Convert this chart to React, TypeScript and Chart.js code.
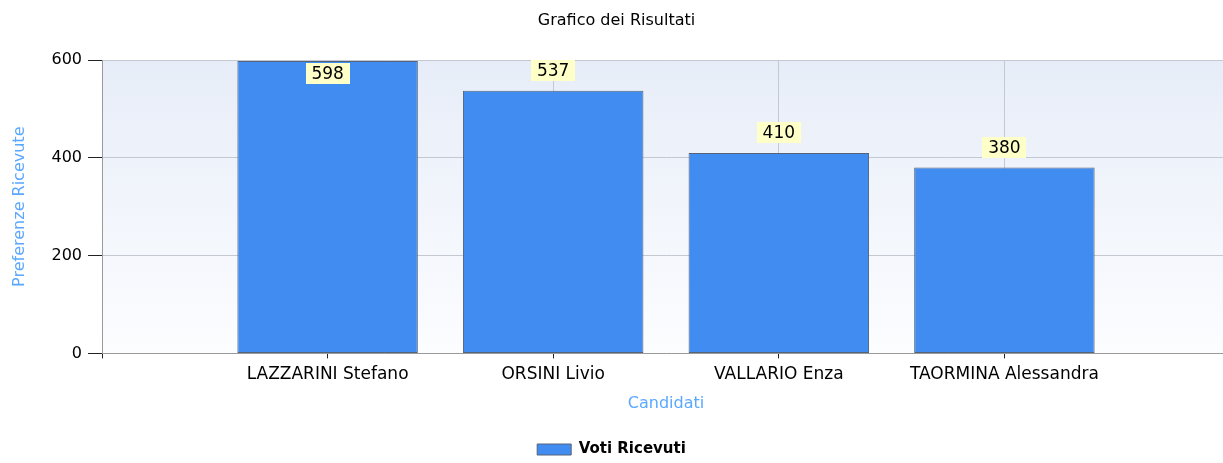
import React, { useEffect, useRef } from "react";
import { Chart, registerables } from "chart.js";

Chart.register(...registerables);

const chartTitle = "Grafico dei Risultati";
const categories = ["LAZZARINI Stefano", "ORSINI Livio", "VALLARIO Enza", "TAORMINA Alessandra"];
const votes = [598, 537, 410, 380];
const seriesName = "Voti Ricevuti";
const yTicks = [0, 200, 400, 600];
const xAxisTitle = "Candidati";
const yAxisTitle = "Preferenze Ricevute";

const FONT = "'DejaVu Sans', sans-serif";

const plotBg = {
  id: "plotBg",
  beforeDraw(chart: any) {
    const { ctx, chartArea: a } = chart;
    if (!a) return;
    const g = ctx.createLinearGradient(0, a.top, 0, a.bottom);
    g.addColorStop(0, "#E7EDF8");
    g.addColorStop(1, "#FCFDFF");
    ctx.save();
    ctx.fillStyle = g;
    ctx.fillRect(a.left, a.top, a.right - a.left, a.bottom - a.top);
    ctx.restore();
  },
};

const valueLabels = {
  id: "valueLabels",
  afterDatasetsDraw(chart: any) {
    const { ctx, chartArea: a } = chart;
    const meta = chart.getDatasetMeta(0);
    const data = chart.data.datasets[0].data;
    ctx.save();
    ctx.font = `17px ${FONT}`;
    ctx.textAlign = "center";
    ctx.textBaseline = "middle";
    meta.data.forEach((el: any, i: number) => {
      const v = data[i];
      if (v == null) return;
      const txt = String(v);
      const w = Math.round(ctx.measureText(txt).width + 12);
      const h = 21;
      let top = el.y - 10 - h;
      if (top < a.top - 2) top = a.top + 3;
      ctx.fillStyle = "#FFFFC8";
      ctx.fillRect(Math.round(el.x - w / 2), Math.round(top), w, h);
      ctx.fillStyle = "#000";
      ctx.fillText(txt, el.x, Math.round(top) + h / 2 + 1);
    });
    ctx.restore();
  },
};

const legendShift = {
  id: "legendShift",
  afterLayout(chart: any) {
    if (chart.legend) {
      chart.legend.left -= 5;
      chart.legend.right -= 5;
    }
  },
};

export default function App() {
  const ref = useRef<HTMLCanvasElement | null>(null);

  useEffect(() => {
    if (!ref.current) return;
    const labels = ["", ...categories, ""];
    const data = [null, ...votes, null];
    const chart = new Chart(ref.current, {
      type: "bar",
      data: {
        labels,
        datasets: [
          {
            label: seriesName,
            data: data as any,
            backgroundColor: "#418CF0",
            borderColor: "#56647A",
            borderWidth: 1,
            borderSkipped: false,
            barPercentage: 1,
            categoryPercentage: 0.8,
          },
        ],
      },
      options: {
        responsive: false,
        animation: false,
        layout: { padding: { left: 0, right: 3, top: 0, bottom: 0 } },
        plugins: {
          title: {
            display: true,
            text: chartTitle,
            color: "#000",
            font: { family: FONT, size: 16, weight: "normal" },
            padding: { top: 11, bottom: 29.8 },
          },
          legend: {
            display: true,
            position: "bottom",
            labels: {
              boxWidth: 34,
              boxHeight: 11,
              padding: 29,
              color: "#000",
              font: { family: FONT, size: 15, weight: "bold" },
            },
          },
          tooltip: { enabled: false },
        },
        scales: {
          x: {
            type: "category",
            offset: false,
            grid: { offset: false, color: "#C4C8D0", tickColor: "#222", tickLength: 5 },
            border: { color: "#9A9A9A" },
            ticks: {
              color: "#000",
              font: { family: FONT, size: 17 },
              padding: 6,
              autoSkip: false,
              maxRotation: 0,
            },
            title: {
              display: true,
              text: xAxisTitle,
              color: "#5AA8FF",
              font: { family: FONT, size: 16 },
              padding: { top: 0, bottom: 0 },
            },
            afterFit(s: any) {
              s.height = 59.6;
            },
          },
          y: {
            min: yTicks[0],
            max: yTicks[yTicks.length - 1],
            ticks: {
              stepSize: yTicks[1] - yTicks[0],
              color: "#000",
              font: { family: FONT, size: 16 },
              padding: 6,
            },
            grid: { color: "#C4C8D0", tickColor: "#222", tickLength: 14 },
            border: { color: "#9A9A9A" },
            title: {
              display: true,
              text: yAxisTitle,
              color: "#5AA8FF",
              font: { family: FONT, size: 16 },
              padding: { top: 10, bottom: 0 },
            },
            afterFit(s: any) {
              s.width = 102;
            },
          },
        },
      } as any,
      plugins: [plotBg, valueLabels, legendShift],
    });
    return () => chart.destroy();
  }, []);

  return (
    <div
      style={{
        position: "fixed",
        left: 0,
        top: 0,
        width: 1223,
        height: 463,
        overflow: "hidden",
        background: "#fff",
      }}
    >
      <canvas ref={ref} width={1236} height={467} style={{ display: "block" }} />
    </div>
  );
}
